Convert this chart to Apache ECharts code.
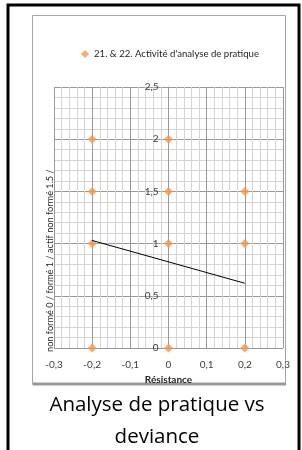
<!DOCTYPE html>
<html>
<head>
<meta charset="utf-8">
<script src="https://cdn.jsdelivr.net/npm/echarts@6/dist/echarts.min.js"></script>
<style>
  html, body { margin: 0; padding: 0; background: #fff; }
  #chart { width: 302px; height: 450px; }
</style>
</head>
<body>
<div id="chart"></div>
<script>
// points du nuage
const seriesName = "21. & 22. Activité d'analyse de pratique";
const xValues = [-0.2, 0, -0.2, 0, 0.2, -0.2, 0, 0.2, -0.2, 0, 0.2];
const yValues = [2, 2, 1.5, 1.5, 1.5, 1, 1, 1, 0, 0, 0];
// courbe de tendance
const trendX = [-0.2, 0.2];
const trendY = [1.03, 0.62];

const yTitle = 'non formé 0 / formé 1 / actif non formé 1.5 /';
const xTitle = 'Résistance';
const caption = 'Analyse de pratique vs\ndeviance';

const fmt = v => String(+v.toFixed(2)).replace('.', ',');

const gridLeft = 54, gridRight = 19;
// l'axe vertical croise en x = 0 (milieu de -0,3..0,3)
const yAxisOffset = -(302 - gridLeft - gridRight) / 2;

const chart = echarts.init(document.getElementById('chart'));

const option = {
  animation: false,
  textStyle: { fontFamily: 'Lato' },
  legend: {
    data: [seriesName],
    left: 76,
    top: 44,
    icon: 'diamond',
    itemWidth: 8,
    itemHeight: 8,
    textStyle: { color: '#262626', fontSize: 9.6, fontFamily: 'Lato' }
  },
  grid: {
    left: gridLeft,
    right: gridRight,
    top: 87,
    bottom: 102
  },
  xAxis: {
    type: 'value',
    min: -0.3,
    max: 0.3,
    interval: 0.1,
    name: xTitle,
    nameLocation: 'middle',
    nameGap: 21,
    nameTextStyle: { color: '#262626', fontSize: 10, fontWeight: 'bold' },
    axisLine: { show: false },
    axisTick: { show: false },
    axisLabel: { color: '#404040', fontSize: 10, margin: 12, formatter: fmt },
    splitLine: { lineStyle: { color: '#999999', width: 1 } },
    minorTick: { show: false, splitNumber: 5 },
    minorSplitLine: { show: true, lineStyle: { color: '#d4d4d4', width: 1 } }
  },
  yAxis: {
    type: 'value',
    min: 0,
    max: 2.5,
    interval: 0.5,
    offset: yAxisOffset,
    axisLine: { show: true, onZero: false, lineStyle: { color: '#999999' } },
    axisTick: { show: false },
    axisLabel: { color: '#404040', fontSize: 10, margin: 10, formatter: fmt },
    splitLine: { lineStyle: { color: '#999999', width: 1 } },
    minorTick: { show: false, splitNumber: 5 },
    minorSplitLine: { show: true, lineStyle: { color: '#d4d4d4', width: 1 } }
  },
  series: [
    {
      name: seriesName,
      type: 'scatter',
      symbol: 'diamond',
      symbolSize: 9,
      itemStyle: { color: '#F79646' },
      data: xValues.map((x, i) => [x, yValues[i]]),
      z: 3
    },
    {
      name: 'tendance',
      type: 'line',
      showSymbol: false,
      symbol: 'none',
      lineStyle: { color: '#000', width: 1 },
      data: trendX.map((x, i) => [x, trendY[i]]),
      z: 4
    }
  ],
  graphic: [
    // cadre noir extérieur
    {
      type: 'rect',
      shape: { x: 8, y: 5, width: 291, height: 470 },
      style: { fill: 'none', stroke: '#000', lineWidth: 3 },
      silent: true
    },
    // cadre gris du graphique
    {
      type: 'rect',
      shape: { x: 32.5, y: 15.5, width: 253, height: 368 },
      style: { fill: 'none', stroke: '#a6a6a6', lineWidth: 1 },
      silent: true
    },
    {
      type: 'line',
      shape: { x1: 32.5, y1: 384, x2: 286, y2: 384 },
      style: { stroke: '#999999', lineWidth: 3 },
      silent: true
    },
    {
      type: 'text',
      x: 50,
      y: 352,
      rotation: Math.PI / 2,
      style: {
        text: yTitle,
        fill: '#262626',
        font: '9.2px Lato',
        align: 'left',
        verticalAlign: 'middle'
      },
      silent: true
    },
    {
      type: 'text',
      x: 157,
      y: 389,
      style: {
        text: caption,
        fill: '#000',
        font: '20.5px "Open Sans"',
        lineHeight: 32,
        align: 'center',
        verticalAlign: 'top'
      },
      silent: true
    }
  ]
};

chart.setOption(option);
</script>
</body>
</html>
